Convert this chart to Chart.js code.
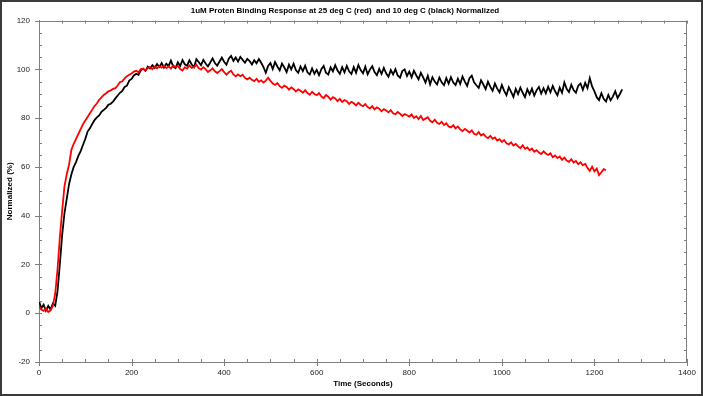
<!DOCTYPE html>
<html>
<head>
<meta charset="utf-8">
<script src="https://cdn.jsdelivr.net/npm/chart.js@4/dist/chart.umd.min.js"></script>
<style>
  html, body { margin: 0; padding: 0; background: #fff; }
</style>
</head>
<body>
<canvas id="bindChart" width="703" height="396"></canvas>
<script>
// sampling interval of both traces (seconds)
const sampleStep = 5;

// 25 deg C trace (red), one value every 5 s from t = 0
const red25 = [
  3, 1.5, 1, 2, 0.5, 1.2, 3, 8, 18, 31, 42, 52, 57, 61, 67, 69.5, 71.5, 73.5, 75.5, 77.5,
  79, 80.5, 82, 83.5, 85, 86, 87.5, 88.5, 89.5, 90.2, 91, 91.4, 92, 92.3, 93.4, 94.8, 95.1, 96.3, 97.2, 97.8,
  98.3, 99.1, 99.4, 98.8, 100.1, 100.3, 99.5, 100.6, 101.0, 100.1, 101.1, 100.4, 101.3, 100.7, 101.6, 100.5, 101.2, 100.3, 101.7, 100.9,
  101.4, 100.1, 99.5, 100.9, 100.3, 101.6, 100.6, 101.0, 101.9, 100.5, 99.9, 100.9, 100.1, 98.9, 99.6, 100.4, 99.2, 98.5, 99.3, 100.1,
  98.9, 97.8, 98.8, 99.4, 97.9, 97.1, 97.9, 97.2, 97.8, 96.5, 95.9, 96.6, 95.7, 95.2, 96.1, 94.9, 95.5, 94.6, 95.4, 96.6,
  95.3, 94.2, 93.6, 94.4, 93.1, 92.4, 93.3, 92.8, 91.7, 92.6, 92.0, 90.9, 91.8, 91.2, 90.4, 91.5, 90.3, 89.6, 90.8, 89.9,
  89.4, 90.3, 88.9, 88.2, 89.5, 88.8, 87.6, 88.6, 88.1, 87.0, 87.9, 86.6, 87.4, 86.9, 85.8, 86.7, 86.1, 85.2, 86.3, 85.4,
  84.9, 85.8, 84.5, 84.0, 84.9, 83.6, 84.4, 83.9, 82.8, 83.7, 83.1, 82.4, 83.3, 82.0, 81.6, 82.5, 81.8, 80.9, 81.7, 81.2,
  80.6, 81.5, 80.1, 80.8, 79.6, 80.9, 79.2, 79.8, 80.4, 78.9, 78.3, 79.4, 78.1, 77.6, 78.5, 77.2, 77.9, 76.6, 76.2, 77.1,
  75.8, 76.6, 75.4, 74.7, 75.6, 74.9, 74.1, 75.0, 73.6, 73.2, 74.3, 72.9, 73.5, 72.4, 71.8, 72.7, 71.5, 72.1, 70.8, 71.4,
  70.2, 71.0, 69.7, 69.2, 70.1, 68.8, 69.4, 68.4, 67.7, 68.9, 67.4, 68.0, 66.8, 67.5, 66.2, 66.9, 65.9, 65.3, 66.4, 65.5,
  64.9, 65.6, 64.0, 64.7, 63.6, 64.3, 62.9, 63.8, 62.6, 62.1, 63.2, 61.8, 62.4, 61.1, 61.9, 60.7, 61.3, 59.6, 58.4, 60.1,
  58.2, 59.3, 56.6, 57.8, 59.1, 58.6
];

// 10 deg C trace (black), one value every 5 s from t = 0
const black10 = [
  5, 2, 3.5, 1, 3, 1.5, 4, 3, 9, 20, 32, 41, 47, 53, 57, 60, 62, 64.5, 66.5, 69,
  71.5, 74.5, 75.8, 77.6, 79.2, 80.3, 81.1, 82.6, 83.4, 84.2, 85.5, 85.9, 86.8, 88.1, 89.3, 90.4, 91.2, 92.8, 93.3, 95.4,
  96.1, 97.5, 98.2, 97.8, 99.6, 100.3, 99.4, 101.1, 100.4, 101.7, 100.6, 102.2, 101.0, 102.6, 100.7, 102.3, 101.4, 103.6, 101.1, 100.5,
  102.9, 101.4, 103.8, 102.1, 101.5, 103.7, 102.0, 100.9, 104.2, 103.0, 101.7, 103.9, 102.4, 101.2, 102.8, 104.5, 102.6, 101.5, 103.2, 104.8,
  103.1, 101.9, 104.4, 105.5, 103.5, 104.9, 103.2, 105.1, 103.9, 102.7, 104.3, 103.4, 102.0, 103.8, 102.5, 104.2, 102.7, 100.9, 98.6, 101.4,
  102.6, 100.1, 103.0, 101.2, 99.6, 102.4, 100.8, 98.9, 101.9, 100.0, 102.3, 99.7, 98.6, 101.2, 99.3, 101.5, 98.8, 97.9, 100.4, 98.2,
  99.8, 97.6, 100.1, 101.4, 98.6, 97.9, 100.8, 99.2, 101.7, 99.5, 98.2, 100.9, 98.8, 101.4, 99.2, 98.1, 100.9, 98.6, 101.8, 99.7,
  98.4, 101.1, 98.0, 99.9, 101.3, 98.9, 97.6, 100.2, 98.1, 100.6, 98.4, 97.0, 99.7, 97.9, 100.1, 97.5, 96.6, 99.3, 100.0, 97.3,
  99.1, 96.8, 99.4, 97.6, 95.9, 98.6, 96.7, 94.6, 97.4, 93.9, 96.8, 95.0, 93.8, 96.6, 94.7, 93.5, 96.4, 94.2, 96.8, 94.6,
  93.6, 96.2, 94.0, 97.1, 95.0, 93.2, 96.4, 97.4, 94.7, 93.5, 92.4, 95.5, 93.8, 91.9, 94.9, 92.9, 91.2, 94.2, 92.1, 90.6,
  93.6, 91.2, 89.4, 92.7, 90.8, 88.7, 92.0, 89.9, 92.5, 90.4, 88.6, 91.8, 89.8, 92.1, 89.3, 91.4, 92.8, 90.1, 92.3, 90.2,
  92.9, 90.6, 93.2, 91.0, 89.4, 92.5, 90.4, 94.6, 92.0, 90.7, 93.7, 91.5, 90.4, 93.3, 94.2, 91.6, 94.5, 92.3, 96.4, 93.0,
  91.0, 88.6, 87.4, 90.2, 87.9, 86.8, 89.5, 87.3, 88.9, 91.0, 88.2, 89.9, 91.8
];

const chartTitle = '1uM Proten Binding Response at 25 deg C (red)  and 10 deg C (black) Normalized';
const xTitle = 'Time (Seconds)';
const yTitle = 'Normalized (%)';

function toPoints(arr) {
  return arr.map((v, i) => ({ x: i * sampleStep, y: v }));
}

const fontFam = '"Liberation Sans", Arial, sans-serif';
const axisGray = '#7f7f7f';

// minor/major tick marks on all four sides + frame round the picture
const axisTicks = {
  id: 'axisTicks',
  afterDraw(chart) {
    const { ctx, chartArea: a, scales: { x, y } } = chart;
    ctx.save();
    ctx.strokeStyle = axisGray;
    ctx.lineWidth = 1;
    ctx.beginPath();
    ctx.moveTo(a.left, Math.round(a.top) + 0.5);
    ctx.lineTo(a.right, Math.round(a.top) + 0.5);
    ctx.moveTo(Math.round(a.right) - 0.5, a.top);
    ctx.lineTo(Math.round(a.right) - 0.5, a.bottom);
    for (let t = x.min; t <= x.max; t += 50) {
      const px = Math.round(x.getPixelForValue(t)) + 0.5;
      const major = t % 200 === 0;
      ctx.moveTo(px, a.bottom - 3);
      ctx.lineTo(px, a.bottom + (major ? 4 : 0));
      ctx.moveTo(px, a.top);
      ctx.lineTo(px, a.top + 3);
    }
    for (let v = y.min; v <= y.max; v += 5) {
      const py = Math.round(y.getPixelForValue(v)) + 0.5;
      const major = v % 20 === 0;
      ctx.moveTo(a.left - (major ? 4 : 0), py);
      ctx.lineTo(a.left + 3, py);
      ctx.moveTo(a.right, py);
      ctx.lineTo(a.right - 3, py);
    }
    ctx.stroke();
    ctx.strokeStyle = '#3a3a3a';
    ctx.lineWidth = 2;
    ctx.strokeRect(1, 1, chart.width - 2, chart.height - 2);
    ctx.restore();
  }
};

const ctx = document.getElementById('bindChart');
const bindChart = new Chart(ctx, {
  type: 'line',
  data: {
    datasets: [
      { label: '25 deg C', data: toPoints(red25), borderColor: '#ff0000', borderWidth: 1.8 },
      { label: '10 deg C', data: toPoints(black10), borderColor: '#000000', borderWidth: 1.8 }
    ]
  },
  options: {
    responsive: false,
    animation: false,
    devicePixelRatio: 1,
    layout: { padding: { left: 3, right: 16, top: 4, bottom: 7 } },
    elements: { point: { radius: 0 }, line: { tension: 0, fill: false } },
    plugins: {
      legend: { display: false },
      tooltip: { enabled: false },
      title: {
        display: true,
        text: chartTitle,
        color: '#000',
        font: { family: fontFam, size: 8, weight: 'bold' },
        padding: { top: 2, bottom: 5 }
      }
    },
    scales: {
      x: {
        type: 'linear',
        min: 0,
        max: 1400,
        afterFit: (scale) => { scale.height = 27; },
        ticks: { stepSize: 200, color: '#222', padding: 6, maxRotation: 0, callback: (v) => String(v), font: { family: fontFam, size: 8 } },
        grid: { display: false, drawTicks: false },
        border: { color: axisGray },
        title: { display: true, text: xTitle, color: '#000', padding: { top: 2, bottom: 0 }, font: { family: fontFam, size: 8, weight: 'bold' } }
      },
      y: {
        min: -20,
        max: 120,
        afterFit: (scale) => { scale.width = 36; },
        ticks: { stepSize: 20, color: '#222', padding: 9, callback: (v) => String(v), font: { family: fontFam, size: 8 } },
        grid: { display: false, drawTicks: false },
        border: { color: axisGray },
        title: { display: true, text: yTitle, color: '#000', padding: 2, font: { family: fontFam, size: 8, weight: 'bold' } }
      }
    }
  },
  plugins: [axisTicks]
});
</script>
</body>
</html>
